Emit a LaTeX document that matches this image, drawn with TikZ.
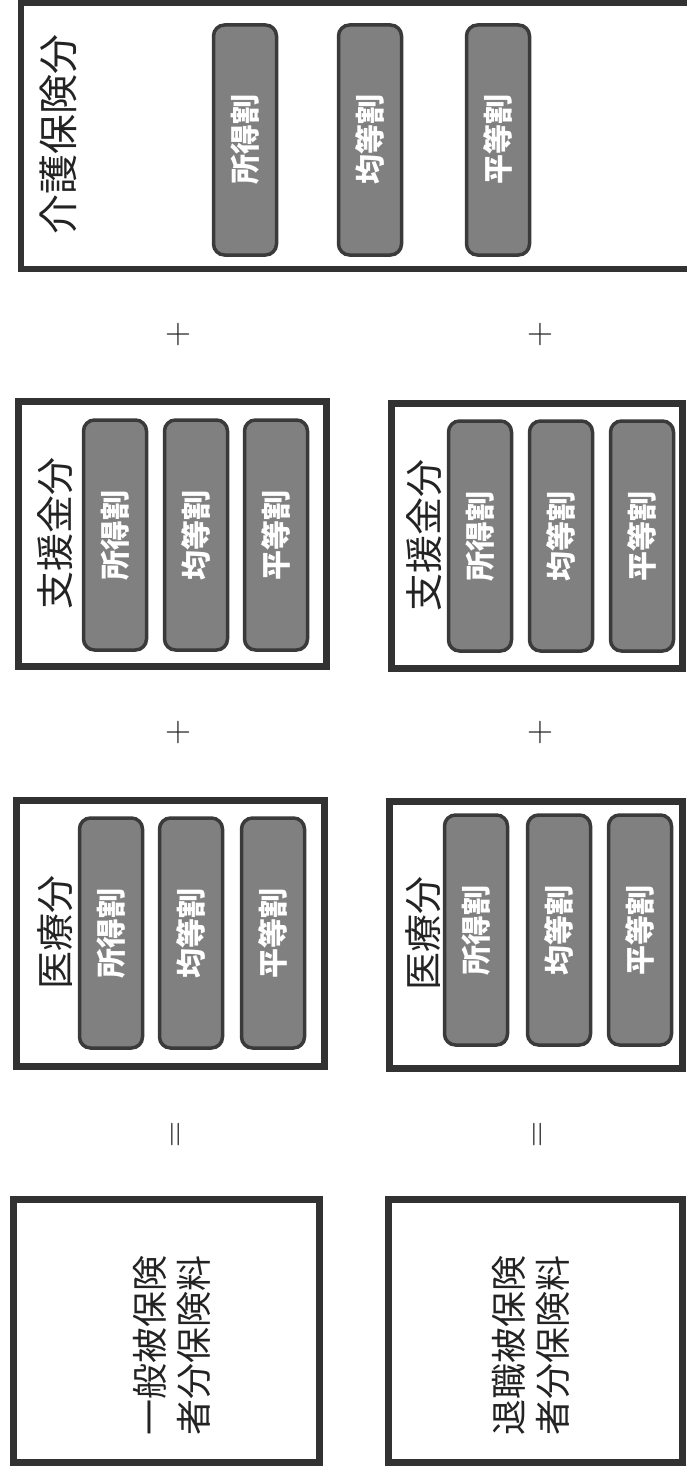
\documentclass[tikz,border=0pt]{standalone}
\usepackage{fontspec}
\newfontfamily\jp{Noto Sans CJK JP}
\definecolor{boxc}{RGB}{50,50,50}
\definecolor{pillf}{RGB}{128,128,128}
\definecolor{pillb}{RGB}{58,58,58}
\definecolor{txt}{RGB}{35,35,35}
\begin{document}
\begin{tikzpicture}[x=1pt,y=-1pt,
 frame/.style={draw=boxc, line width=6.5pt, fill=white, inner sep=0pt},
 pill/.style={draw=pillb, fill=pillf, line width=3.5pt, rounded corners=11pt, rotate=90,
   minimum width=230pt, minimum height=63pt, inner sep=0pt, text=white,
   font=\jp\bfseries\fontsize{30}{30}\selectfont},
 title/.style={rotate=90, inner sep=0pt, text=txt, font=\jp\fontsize{38}{38}\selectfont},
 big/.style={rotate=90, inner sep=0pt, text=txt, align=center, font=\jp\fontsize{36}{44}\selectfont},
 op/.style={inner sep=0pt, text=txt, font=\fontsize{36}{36}\selectfont}]
\useasboundingbox (0,0) rectangle (686,1471);
\fill[white] (0,0) rectangle (686,1471);

% top row: 介護保険分
\node[frame, minimum width=690pt, minimum height=266pt] (kaigo) at (366,136) {};
\node[title, font=\jp\fontsize{40}{40}\selectfont] (kaigoT) at (58,135) {介護保険分};
\node[pill] (k1) at (245,140) {所得割};
\node[pill] (k2) at (370,140) {均等割};
\node[pill] (k3) at (498,140) {平等割};

\node[op] (p1) at (178,335) {+};
\node[op] (p2) at (540,335) {+};

% row 2: 支援金分
\node[frame, minimum width=308pt, minimum height=265pt] (sL) at (172.5,534) {};
\node[title] (sLT) at (55,533) {支援金分};
\node[pill] (sL1) at (115,535) {所得割};
\node[pill] (sL2) at (196,535) {均等割};
\node[pill] (sL3) at (276,535) {平等割};

\node[frame, minimum width=291pt, minimum height=265pt] (sR) at (537,536) {};
\node[title] (sRT) at (424,535) {支援金分};
\node[pill] (sR1) at (480,536) {所得割};
\node[pill] (sR2) at (561,536) {均等割};
\node[pill] (sR3) at (642,536) {平等割};

\node[op] (p3) at (178,733) {+};
\node[op] (p4) at (540,733) {+};

% row 3: 医療分
\node[frame, minimum width=308pt, minimum height=266pt] (iL) at (170.5,933.5) {};
\node[title] (iLT) at (55,932) {医療分};
\node[pill] (iL1) at (111,933) {所得割};
\node[pill] (iL2) at (191,933) {均等割};
\node[pill] (iL3) at (273,933) {平等割};

\node[frame, minimum width=293pt, minimum height=267pt] (iR) at (536,935) {};
\node[title] (iRT) at (423,933) {医療分};
\node[pill] (iR1) at (476,930) {所得割};
\node[pill] (iR2) at (559,930) {均等割};
\node[pill] (iR3) at (640,930) {平等割};

\node[op, rotate=90] (e1) at (178,1135) {=};
\node[op, rotate=90] (e2) at (540,1135) {=};

% row 4: totals
\node[frame, minimum width=306pt, minimum height=263pt] (tL) at (166.5,1331) {};
\node[big] (tLT) at (172,1345) {一般被保険\\者分保険料};
\node[frame, minimum width=294pt, minimum height=263pt] (tR) at (535.5,1331) {};
\node[big] (tRT) at (531,1345) {退職被保険\\者分保険料};
\end{tikzpicture}
\end{document}
